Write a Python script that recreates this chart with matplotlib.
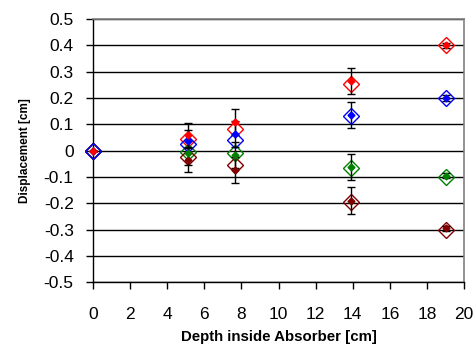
import matplotlib
matplotlib.use("Agg")
import matplotlib.pyplot as plt

plt.rcParams['font.family'] = ['Liberation Sans', 'DejaVu Sans']

# depth positions (cm)
depth = [0, 5.1, 7.65, 13.9, 19.0]

# measured displacement (filled) with errors
meas_red = [0.0, 0.06, 0.11, 0.265, 0.40]
meas_blue = [0.0, 0.035, 0.062, 0.135, 0.20]
meas_green = [0.0, -0.008, -0.017, -0.062, -0.095]
meas_dred = [0.0, -0.036, -0.074, -0.19, -0.295]
err = [0.0, 0.045, 0.05, 0.05, 0.01]

# simulated displacement (open diamonds)
sim_red = [0.0, 0.044, 0.084, 0.253, 0.40]
sim_blue = [0.0, 0.025, 0.04, 0.133, 0.20]
sim_green = [0.0, -0.005, -0.008, -0.065, -0.10]
sim_dred = [0.0, -0.024, -0.055, -0.195, -0.30]

colors = {'red': '#ff0000', 'blue': '#0000ff', 'green': '#008000', 'dred': '#800000'}

fig = plt.figure(figsize=(4.75, 3.47), dpi=100)
ax = fig.add_axes([0.196, 0.187, 0.781, 0.758])

ax.set_xlim(0, 20)
ax.set_ylim(-0.5, 0.5)
ax.set_xticks(range(0, 21, 2))
ax.set_yticks([i / 10 for i in range(-5, 6)])
ax.set_yticklabels(['-0.5', '-0.4', '-0.3', '-0.2', '-0.1', '0', '0.1', '0.2', '0.3', '0.4', '0.5'])
ax.yaxis.grid(True, color='black', lw=1)
ax.set_axisbelow(True)

for s in ['top', 'right']:
    ax.spines[s].set_color('#808080')
    ax.spines[s].set_linewidth(1.2)
for s in ['left', 'bottom']:
    ax.spines[s].set_color('black')
    ax.spines[s].set_linewidth(1)

ax.tick_params(direction='out', length=5, width=1, labelsize=12.5)
ax.tick_params(axis='x', pad=13)
ax.tick_params(axis='y', pad=9)

# open diamonds (simulation)
for vals, c in [(sim_red, 'red'), (sim_green, 'green'), (sim_dred, 'dred'), (sim_blue, 'blue')]:
    ax.plot(depth, vals, 'D', ms=8.5, mfc='none', mec=colors[c], mew=1, ls='none',
            zorder=3, clip_on=False)

# measured points with error bars
for vals, c in [(meas_dred, 'dred'), (meas_green, 'green'), (meas_blue, 'blue'), (meas_red, 'red')]:
    eb = ax.errorbar(depth, vals, yerr=err, fmt='D', ms=3.5, mfc=colors[c], mec=colors[c],
                     ecolor='black', elinewidth=1, capsize=3, capthick=1, zorder=4)
    eb.lines[0].set_clip_on(False)

ax.set_xlabel('Depth inside Absorber [cm]', fontsize=10.8, fontweight='bold', labelpad=6)
ax.set_ylabel('Displacement [cm]', fontsize=8.5, fontweight='bold', labelpad=9)

fig.savefig('out.png', dpi=100)
